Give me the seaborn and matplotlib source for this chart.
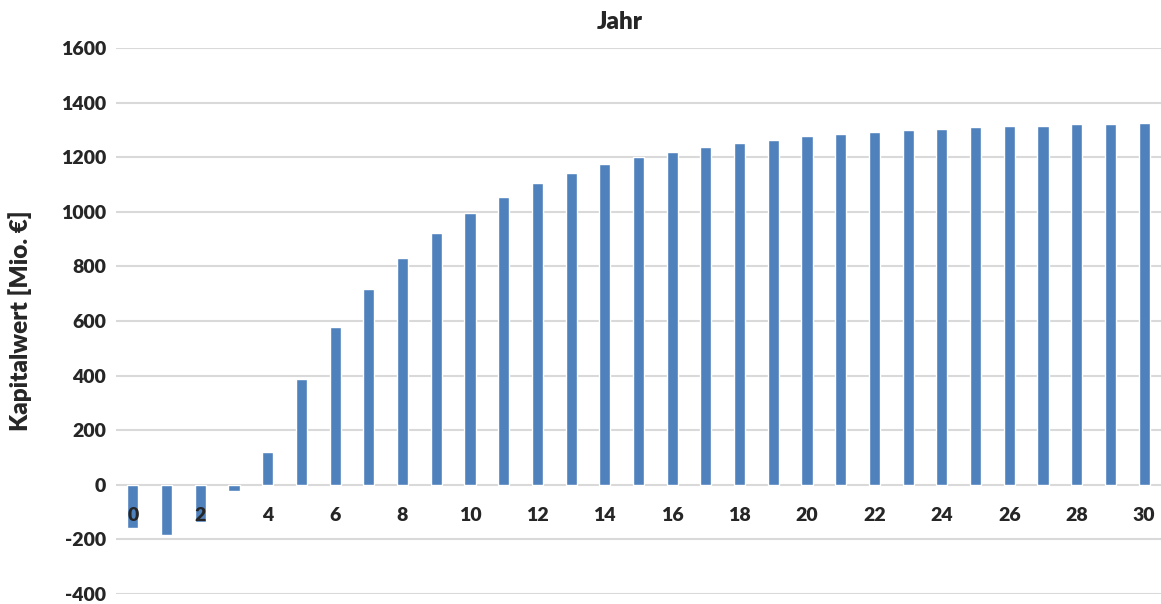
import matplotlib
matplotlib.use("Agg")
import matplotlib.pyplot as plt
import seaborn as sns
import pandas as pd

# Net present value per year (million EUR)
jahre = list(range(0, 31))
kapitalwert = [-158, -184, -135, -24, 120, 389, 577, 717, 832, 921,
               997, 1054, 1105, 1142, 1176, 1199, 1219, 1238, 1253, 1264,
               1276, 1286, 1293, 1300, 1304, 1309, 1314, 1316, 1321, 1322,
               1326]
y_ticks = [-400, -200, 0, 200, 400, 600, 800, 1000, 1200, 1400, 1600]
x_tick_years = list(range(0, 31, 2))

sns.set_theme(style="white")
plt.rcParams["font.family"] = ["Lato", "DejaVu Sans"]

W = "heavy"
df = pd.DataFrame({"Jahr": jahre, "Kapitalwert": kapitalwert})

fig = plt.figure(figsize=(11.61, 6.04), dpi=100)
ax = fig.add_axes([116 / 1161, 10 / 604, 1 - 116 / 1161, 546 / 604])

sns.barplot(data=df, x="Jahr", y="Kapitalwert", order=jahre,
            color="#4F81BD", saturation=1, width=0.33, ax=ax, zorder=2)

ax.set_ylim(-400, 1600)
ax.set_xlim(-0.5, len(jahre) - 0.5)
ax.set_axisbelow(True)
ax.set_yticks(y_ticks)
ax.set_yticklabels([str(v) for v in y_ticks], fontsize=14, fontweight=W)
ax.yaxis.grid(True, color="#d9d9d9", linewidth=1.5)
ax.xaxis.grid(False)

# Category labels sit just under the zero line, drawn over the bars
ax.spines["bottom"].set_position(("data", 0))
for s in ["top", "right", "left", "bottom"]:
    ax.spines[s].set_visible(False)
ax.set_xticks([jahre.index(y) for y in x_tick_years])
ax.set_xticklabels([str(y) for y in x_tick_years], fontsize=14, fontweight=W)
ax.xaxis.set_zorder(5)
ax.tick_params(axis="x", length=0, pad=16)
ax.tick_params(axis="y", length=0, pad=7)

ax.set_xlabel("")
ax.set_ylabel("Kapitalwert [Mio. €]", fontsize=17.5, fontweight=W)
ax.yaxis.set_label_coords(-0.080, 0.5)
fig.text(620 / 1161, 1 - 22 / 604, "Jahr", ha="center", va="center",
         fontsize=17.5, fontweight=W)

fig.savefig("out.png", dpi=100, facecolor="white")
